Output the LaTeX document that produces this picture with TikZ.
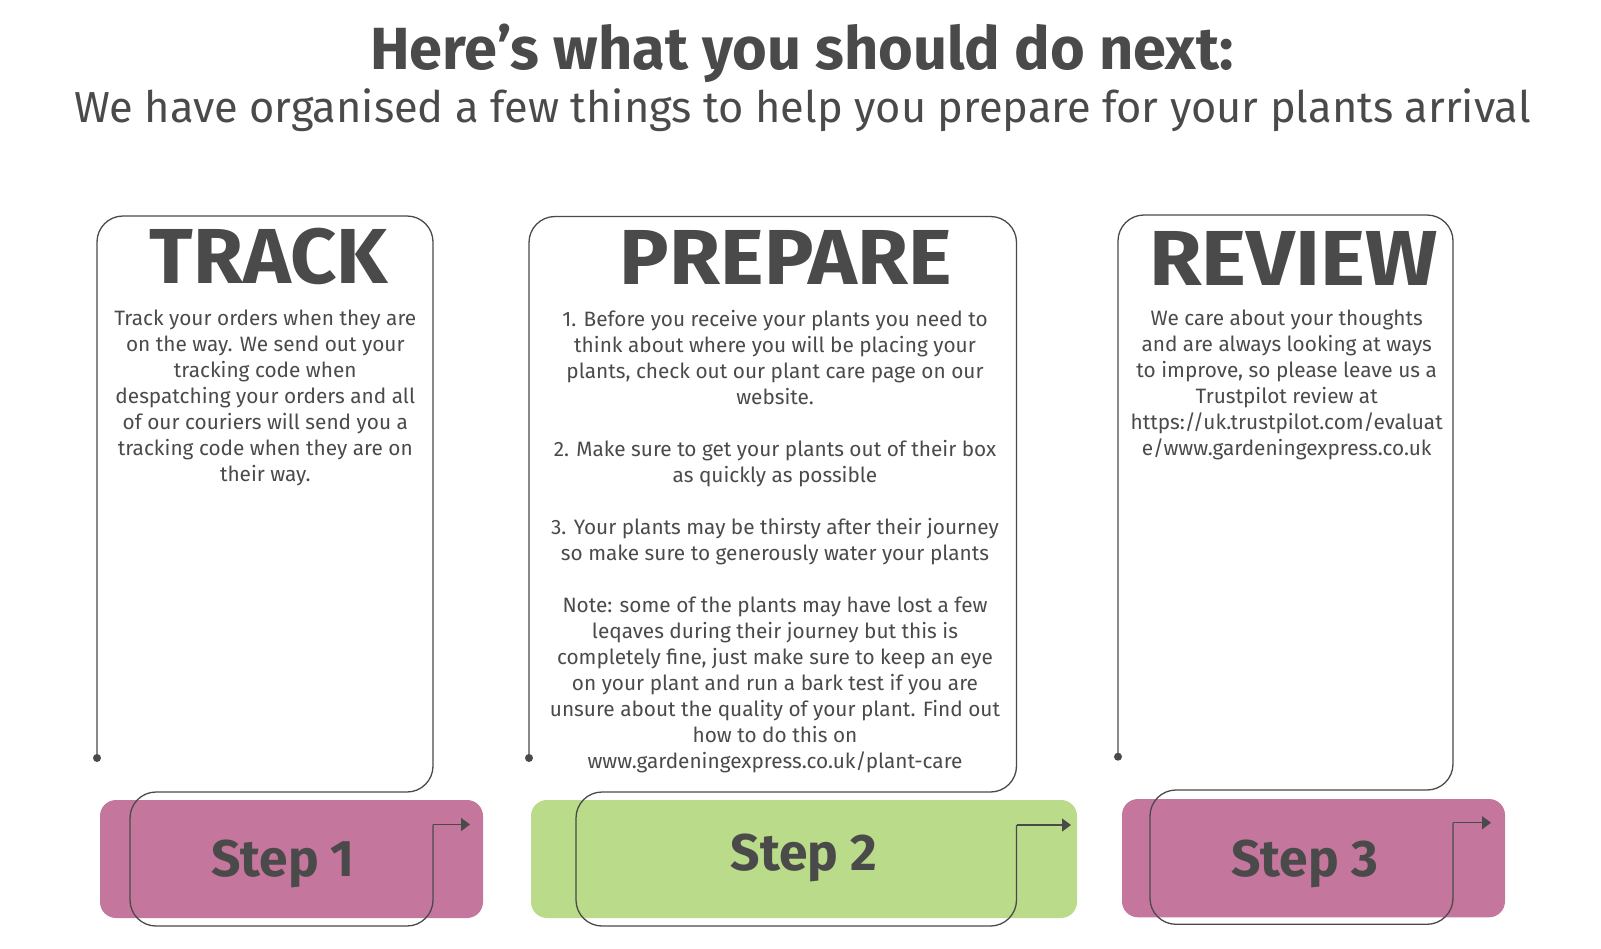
\documentclass[tikz,border=0pt]{standalone}
\usepackage{fontspec}
\setmainfont{Fira Sans}
\usetikzlibrary{arrows.meta}

\definecolor{inkgray}{HTML}{4A4A4A}
\definecolor{steppink}{HTML}{C4769C}
\definecolor{stepgreen}{HTML}{B9DB8A}

\begin{document}
\begin{tikzpicture}[x=1pt,y=-1pt,
  flowline/.style={draw=inkgray, line width=1.3pt, rounded corners=26pt},
  steptip/.style={draw=inkgray, line width=1.3pt, -{Triangle[length=9pt,width=13pt]}},
  stepbar/.style={rounded corners=16pt},
  heading/.style={text=inkgray, font=\bfseries\fontsize{78}{82}\selectfont, inner sep=0pt, anchor=base},
  bodytext/.style={text=inkgray, font=\fontsize{20.8}{26}\selectfont, align=center, inner sep=0pt, anchor=north},
  steplabel/.style={text=inkgray, font=\bfseries\fontsize{51.5}{55}\selectfont, inner sep=0pt, anchor=base}]

\useasboundingbox (0,0) rectangle (1601,948);

% Title lines
\node[text=inkgray, font=\bfseries\fontsize{59.5}{62}\selectfont, inner sep=0pt, anchor=base] (title) at (802,69) {Here’s what you should do next:};
\node[text=inkgray, font=\fontsize{43.4}{46}\selectfont, inner sep=0pt, anchor=base] (subtitle) at (802.5,122.5) {We have organised a few things to help you prepare for your plants arrival};

% Step bars
\fill[stepbar, fill=steppink] (100,800) rectangle (483,918);
\fill[stepbar, fill=stepgreen] (531,800) rectangle (1077,918);
\fill[stepbar, fill=steppink] (1122,799) rectangle (1505,917.3);

% Box and loop outlines, one run per step
\foreach \bl/\br/\bt/\bb/\dy/\lx/\ly/\ay/\ax in {97/433/216/792/758/130/926/824.5/470, 529/1016.5/216.5/792/758/576/926/825/1071, 1118/1453/215/790/756.7/1150/924.3/822.7/1491} {
  \draw[flowline] (\bl,\dy) -- (\bl,\bt) -- (\br,\bt) -- (\br,\bb) -- (\lx,\bb) -- (\lx,\ly) -- (\br,\ly) -- (\br,\ay);
  \draw[steptip] (\br,\ay) -- (\ax,\ay);
  \fill[inkgray] (\bl,\dy) circle (4);
}

% Headings
\node[heading] (track) at (269,283.5) {\scalebox{1.037}[1]{TRACK}};
\node[heading] (prepare) at (786,284) {\scalebox{1.061}[1]{PREPARE}};
\node[heading] (review) at (1293.5,285) {\scalebox{1.094}[1]{REVIEW}};

% Box texts
\node[bodytext] (tracktext) at (265.3,310) {Track your orders when they are\\on the way. We send out your\\tracking code when\\despatching your orders and all\\of our couriers will send you a\\tracking code when they are on\\their way.};
\node[bodytext] (preparetext) at (775,310) {1. Before you receive your plants you need to\\think about where you will be placing your\\plants, check out our plant care page on our\\website.\\[26pt]2. Make sure to get your plants out of their box\\as quickly as possible\\[26pt]3. Your plants may be thirsty after their journey\\so make sure to generously water your plants\\[26pt]Note: some of the plants may have lost a few\\leqaves during their journey but this is\\completely fine, just make sure to keep an eye\\on your plant and run a bark test if you are\\unsure about the quality of your plant. Find out\\how to do this on\\www.gardeningexpress.co.uk/plant-care};
\node[bodytext] (reviewtext) at (1286.7,310) {We care about your thoughts\\and are always looking at ways\\to improve, so please leave us a\\Trustpilot review at\\https://uk.trustpilot.com/evaluat\\e/www.gardeningexpress.co.uk};

% Step labels
\node[steplabel] (step1) at (283,876.5) {Step 1};
\node[steplabel] (step2) at (804,870.5) {Step 2};
\node[steplabel] (step3) at (1304.5,876.5) {Step 3};

\end{tikzpicture}
\end{document}
